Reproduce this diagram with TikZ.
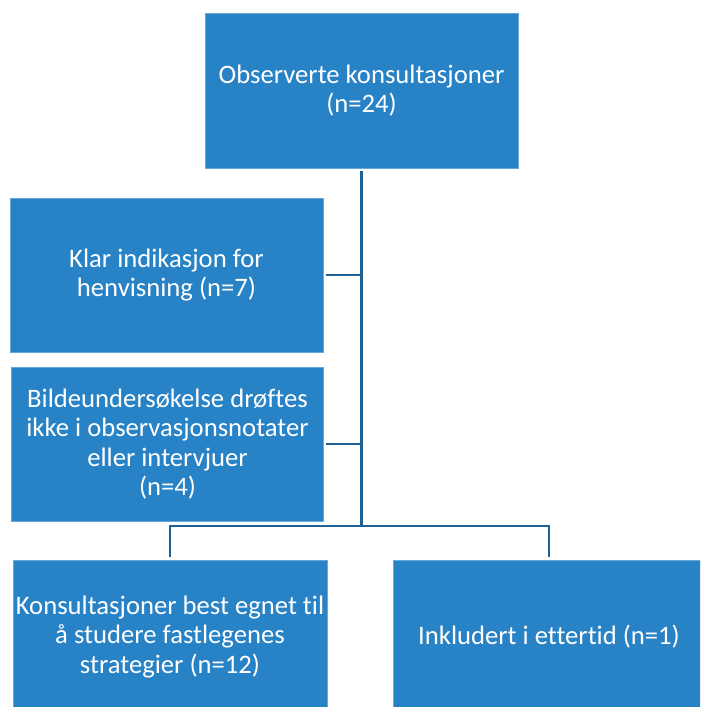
\documentclass[tikz,border=0pt]{standalone}
\usepackage{fontspec}
\setmainfont[Ligatures=NoCommon]{Carlito}
\usetikzlibrary{positioning}
\definecolor{boxblue}{RGB}{40,130,198}
\definecolor{lineblue}{RGB}{31,96,150}

\begin{document}
\begin{tikzpicture}[x=0.75pt, y=-0.75pt,
        box/.style = {draw=boxblue!70!white, line width=0.6pt, fill=boxblue, text=white, align=center,
                      minimum width=234.75pt, minimum height=115.5pt, inner sep=0pt, outer sep=2.2pt,
                      font=\fontsize{20}{22}\selectfont},
        link/.style = {draw=lineblue, line width=2.2pt}]
        \useasboundingbox (0, 0) rectangle (700, 707);
        \clip (0, 0) rectangle (700, 707);
        \node [box, minimum height=116.25pt] (T) at (361.5, 90.5) {Observerte konsultasjoner\\(n=24)};
        \node [box] (L1) at (166.5, 275) {Klar indikasjon for\\henvisning (n=7)};
        \node [box, minimum width=234pt] (L2) at (167.5, 444) {Bildeundersøkelse drøftes\\ikke i observasjonsnotater\\eller intervjuer\\(n=4)};
        \node [box, minimum width=235.5pt] (BL) at (170, 637) {Konsultasjoner best egnet til\\å studere fastlegenes\\strategier (n=12)};
        \node [box, minimum width=234pt] (BR) at (549, 637) {Inkludert i ettertid (n=1)};
        \coordinate (J) at (361.5, 526);
        \draw [link] (T) -- (J);
        \draw [link] (L1) -- (L1 -| J);
        \draw [link] (L2) -- (L2 -| J);
        \draw [link] (BL) |- (J) -| (BR);
\end{tikzpicture}
\end{document}
